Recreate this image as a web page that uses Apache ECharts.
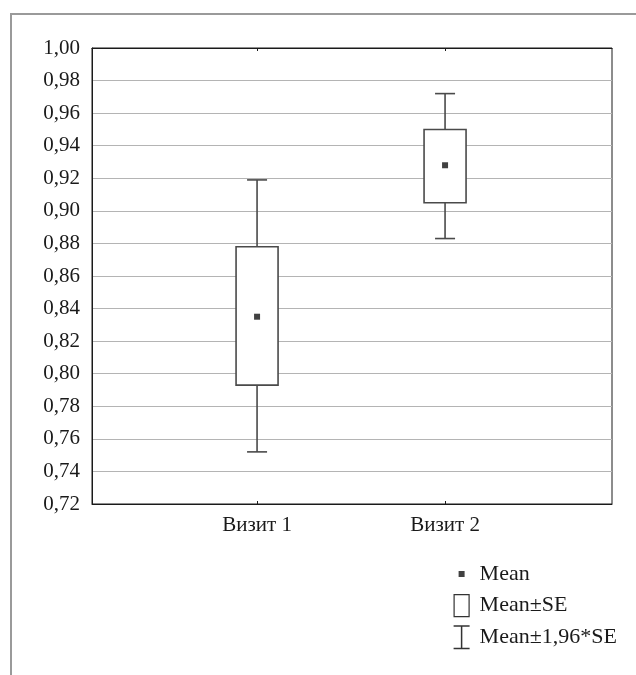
<!DOCTYPE html>
<html>
<head>
<meta charset="utf-8">
<script src="https://cdn.jsdelivr.net/npm/echarts@6/dist/echarts.min.js"></script>
<style>
  html, body { margin: 0; padding: 0; background: #fff; }
  #main { width: 636px; height: 675px; }
</style>
</head>
<body>
<div id="main"></div>
<script>
// данные: среднее, ±SE, ±1,96*SE
var categories = ['Визит 1', 'Визит 2'];
var means = [0.835, 0.928];
var seLow = [0.793, 0.905];
var seHigh = [0.878, 0.950];
var ciLow = [0.752, 0.883];
var ciHigh = [0.919, 0.972];
var yTicks = { min: 0.72, max: 1.00, step: 0.02 };

var serif = "'Liberation Serif', 'Times New Roman', serif";
var lineColor = '#4a4a4a';

var whiskerData = [], boxData = [], meanData = [];
for (var i = 0; i < categories.length; i++) {
    whiskerData.push([i + 1, ciLow[i], ciHigh[i]]);
    boxData.push([i + 1, seLow[i], seHigh[i]]);
    meanData.push([i + 1, means[i]]);
}

function renderWhisker(params, api) {
    var x = api.value(0);
    var lo = api.coord([x, api.value(1)]);
    var hi = api.coord([x, api.value(2)]);
    var cap = 10;
    var style = { stroke: lineColor, lineWidth: 1.6 };
    return {
        type: 'group',
        children: [
            { type: 'line', shape: { x1: lo[0], y1: lo[1], x2: hi[0], y2: hi[1] }, style: style },
            { type: 'line', shape: { x1: lo[0] - cap, y1: lo[1], x2: lo[0] + cap, y2: lo[1] }, style: style },
            { type: 'line', shape: { x1: hi[0] - cap, y1: hi[1], x2: hi[0] + cap, y2: hi[1] }, style: style }
        ]
    };
}

function renderBox(params, api) {
    var x = api.value(0);
    var lo = api.coord([x, api.value(1)]);
    var hi = api.coord([x, api.value(2)]);
    var half = 21;
    return {
        type: 'rect',
        shape: { x: lo[0] - half, y: hi[1], width: half * 2, height: lo[1] - hi[1] },
        style: { fill: '#fff', stroke: lineColor, lineWidth: 1.6 }
    };
}

var chart = echarts.init(document.getElementById('main'));

var option = {
    backgroundColor: '#fff',
    animation: false,
    textStyle: { fontFamily: serif },
    graphic: [
        {
            type: 'rect',
            shape: { x: 11, y: 14, width: 700, height: 700 },
            style: { fill: 'none', stroke: '#9a9a9a', lineWidth: 2 },
            silent: true
        }
    ],
    grid: {
        left: 92,
        right: 24,
        top: 48,
        bottom: 171,
        show: true,
        borderColor: '#1a1a1a',
        borderWidth: 1
    },
    legend: {
        orient: 'vertical',
        left: 448,
        top: 557,
        itemWidth: 16,
        itemHeight: 24,
        itemGap: 7,
        selectedMode: false,
        textStyle: { fontFamily: serif, fontSize: 22, color: '#1a1a1a', padding: [0, 0, 0, 5] },
        data: [
            {
                name: 'Mean',
                icon: 'path://M0,0M16,24M5,9h6v6h-6z',
                itemStyle: { color: '#111', borderWidth: 0 }
            },
            {
                name: 'Mean±SE',
                icon: 'path://M0,0M16,24M0.5,1h15v22h-15z',
                itemStyle: { color: '#fff', borderColor: '#333', borderWidth: 1.2 }
            },
            {
                name: 'Mean±1,96*SE',
                icon: 'path://M0,0h16v1.5h-7.25v21h7.25v1.5h-16v-1.5h7.25v-21h-7.25z',
                itemStyle: { color: '#333', borderWidth: 0 }
            }
        ]
    },
    xAxis: [
        {
            type: 'value',
            min: 0.122,
            max: 2.888,
            splitLine: { show: false },
            axisLine: { show: true, lineStyle: { color: '#1a1a1a' } },
            axisTick: { show: true, inside: true, length: 3, customValues: [1, 2], lineStyle: { color: '#1a1a1a' } },
            axisLabel: {
                customValues: [1, 2],
                margin: 11,
                fontFamily: serif,
                fontSize: 21,
                color: '#1a1a1a',
                formatter: function (v) { return categories[Math.round(v) - 1]; }
            }
        },
        {
            type: 'value',
            position: 'top',
            min: 0.122,
            max: 2.888,
            splitLine: { show: false },
            axisLine: { show: true, lineStyle: { color: '#1a1a1a' } },
            axisTick: { show: true, inside: true, length: 3, customValues: [1, 2], lineStyle: { color: '#1a1a1a' } },
            axisLabel: { show: false }
        }
    ],
    yAxis: {
        type: 'value',
        min: yTicks.min,
        max: yTicks.max,
        interval: yTicks.step,
        axisLine: { show: true, lineStyle: { color: '#1a1a1a' } },
        axisTick: { show: false },
        splitLine: { show: true, lineStyle: { color: '#b4b4b4', width: 1.2 } },
        axisLabel: {
            margin: 12,
            fontFamily: serif,
            fontSize: 21,
            color: '#1a1a1a',
            formatter: function (v) { return v.toFixed(2).replace('.', ','); }
        }
    },
    series: [
        {
            name: 'Mean±1,96*SE',
            type: 'custom',
            renderItem: renderWhisker,
            encode: { x: 0, y: [1, 2] },
            itemStyle: { color: '#444' },
            data: whiskerData,
            z: 2
        },
        {
            name: 'Mean±SE',
            type: 'custom',
            renderItem: renderBox,
            encode: { x: 0, y: [1, 2] },
            itemStyle: { color: '#fff', borderColor: '#444' },
            data: boxData,
            z: 3
        },
        {
            name: 'Mean',
            type: 'scatter',
            symbol: 'rect',
            symbolSize: 6,
            itemStyle: { color: '#111' },
            data: meanData,
            z: 4
        }
    ]
};

chart.setOption(option);
</script>
</body>
</html>
